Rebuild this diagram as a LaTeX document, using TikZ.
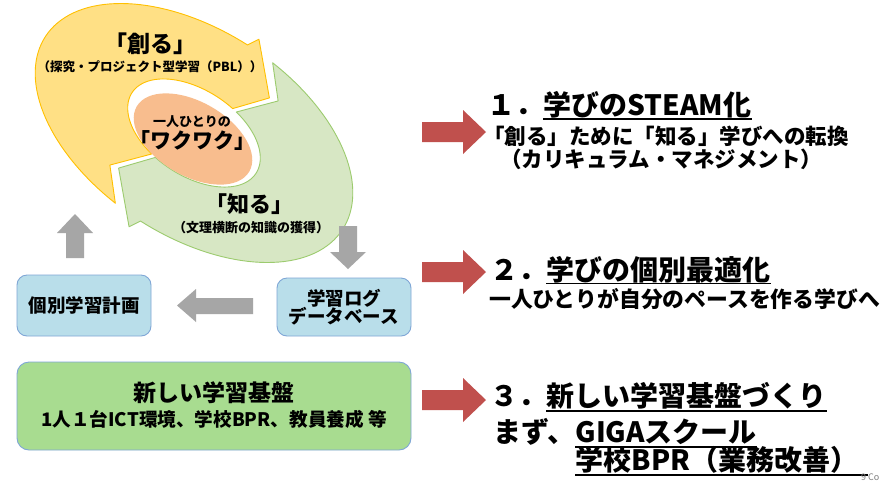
\documentclass[tikz,border=0pt]{standalone}
\usepackage{fontspec}
\setmainfont{Noto Sans CJK JP}
\newcommand\myfs[1]{\fontsize{#1pt}{#1pt}\selectfont}
\definecolor{yfill}{HTML}{FFE085}
\definecolor{yline}{HTML}{FFC000}
\definecolor{gfill}{HTML}{D7E7C4}
\definecolor{gline}{HTML}{9CCB6E}
\definecolor{ofill}{HTML}{F8BD8E}
\definecolor{bfill}{HTML}{B9DEEA}
\definecolor{bline}{HTML}{7FA6D6}
\definecolor{gbfill}{HTML}{A8DC90}
\definecolor{grayarr}{HTML}{A6A6A6}
\definecolor{redarr}{HTML}{C0504D}
\begin{document}
\begin{tikzpicture}[x=1pt,y=-1pt,
  lbl/.style={inner sep=0pt,font=\bfseries},
  bluebox/.style={draw=bline,fill=bfill,line width=0.9pt,rounded corners=10pt,inner sep=0pt,font=\bfseries\myfs{18.5},align=center},
  greenbox/.style={draw=bline,fill=gbfill,line width=0.9pt,rounded corners=12pt,inner sep=0pt},
  grayblock/.style={fill=grayarr},
  redblock/.style={fill=redarr},
  uline/.style={line width=1.8pt}]
\useasboundingbox[fill=white] (0,0) rectangle (888,483);
% ---- cycle arrows
\begin{scope}[shift={(194,133)},x=172pt,y=100pt,rotate=-33]
  \filldraw[fill=yfill,draw=yline,line width=0.9pt,line join=round]
    (261:1.03) -- plot[domain=261:91,samples=70] (\x:1.03) -- (89:1.14) -- (70:0.75) -- (75:0.43)
    -- plot[domain=75:251,samples=70] (\x:0.43) -- (247:0.79) -- cycle;
  \filldraw[fill=gfill,draw=gline,line width=0.9pt,line join=round]
    (81:1.03) -- plot[domain=81:-89,samples=70] (\x:1.03) -- (-91:1.14) -- (-110:0.75) -- (-105:0.43)
    -- plot[domain=-105:71,samples=70] (\x:0.43) -- (67:0.79) -- cycle;
\end{scope}
\fill[ofill,rotate around={-30:(193,139)}] (193,139) ellipse [x radius=65pt,y radius=37pt];
% ---- cycle texts
\node[lbl,anchor=base,font=\bfseries\myfs{23}] (tsukuru) at (150,52) {「創る」};
\node[lbl,anchor=base,font=\bfseries\myfs{12.5}] (pbl) at (150,71) {（探究・プロジェクト型学習（PBL））};
\node[lbl,anchor=base,font=\bfseries\myfs{13}] (hitori) at (192,126) {一人ひとりの};
\node[lbl,anchor=base,font=\bfseries\myfs{21}] (waku) at (192,148) {「ワクワク」};
\node[lbl,anchor=base,font=\bfseries\myfs{22}] (shiru) at (249,212) {「知る」};
\node[lbl,anchor=base,font=\bfseries\myfs{13}] (bunri) at (251,232) {（文理横断の知識の獲得）};
% ---- boxes
\node[bluebox,minimum width=134pt,minimum height=61pt] (plan) at (84,305.5) {個別学習計画};
\node[bluebox,minimum width=134pt,minimum height=58pt] (logdb) at (344,307) {学習ログ\\データベース};
\node[greenbox,minimum width=394pt,minimum height=88pt] (base) at (214,406) {};
\node[lbl,font=\bfseries\myfs{23}] (baset) at ([yshift=13pt]base.center) {新しい学習基盤};
\node[lbl,font=\bfseries\myfs{18.6}] (bases) at ([yshift=-13pt]base.center) {1人１台ICT環境、学校BPR、教員養成 等};
% ---- gray arrows
\fill[grayblock] (66,258) -- (66,233) -- (57,233) -- (75,214) -- (93,233) -- (84,233) -- (84,258) -- cycle;
\fill[grayblock] (339,226) -- (357,226) -- (357,252) -- (366,252) -- (348,269) -- (330,252) -- (339,252) -- cycle;
\fill[grayblock] (253,298) -- (196,298) -- (196,289) -- (177,305.5) -- (196,322) -- (196,314) -- (253,314) -- cycle;
% ---- red arrows
\foreach \c in {132,272,400}{
  \fill[redblock] (422,\c-10) -- (463,\c-10) -- (463,\c-22) -- (486,\c) -- (463,\c+22) -- (463,\c+10) -- (422,\c+10) -- cycle;
}
% ---- right texts
\node[lbl,anchor=base west,font=\bfseries\myfs{28}] (n1) at (487,115) {１．};
\node[lbl,anchor=base west,font=\bfseries\myfs{28}] (t1) at (n1.base east) {学びのSTEAM化};
\draw[uline] ([yshift=-4pt]t1.base west) -- ([yshift=-4pt]t1.base east);
\node[lbl,anchor=base west,font=\bfseries\myfs{21.5}] (s1a) at (483,144) {「創る」ために「知る」学びへの転換};
\node[lbl,anchor=base west,font=\bfseries\myfs{21.5}] (s1b) at (500,167) {（カリキュラム・マネジメント）};
\node[lbl,anchor=base west,font=\bfseries\myfs{28}] (n2) at (490,280) {２．};
\node[lbl,anchor=base west,font=\bfseries\myfs{28}] (t2) at (n2.base east) {学びの個別最適化};
\draw[uline] ([yshift=-3.5pt]t2.base west) -- ([yshift=-3.5pt]t2.base east);
\node[lbl,anchor=base west,font=\bfseries\myfs{21.8}] (s2) at (489,307) {一人ひとりが自分のペースを作る学びへ};
\node[lbl,anchor=base west,font=\bfseries\myfs{28}] (n3) at (490,406) {３．};
\node[lbl,anchor=base west,font=\bfseries\myfs{28}] (t3) at (n3.base east) {新しい学習基盤づくり};
\draw[uline] ([yshift=-5pt]t3.base west) -- ([yshift=-5pt]t3.base east);
\node[lbl,anchor=base west,font=\bfseries\myfs{28}] (m1) at (493,442) {まず、};
\node[lbl,anchor=base west,font=\bfseries\myfs{28}] (giga) at (m1.base east) {GIGAスクール};
\draw[uline] ([yshift=-5pt]giga.base west) -- ([yshift=-5pt]giga.base east);
\node[lbl,anchor=base west,font=\bfseries\myfs{28}] (bpr) at (giga.base west |- 0,470) {学校BPR（業務改善）};
\draw[uline] ([yshift=-5pt]bpr.base west) -- ([yshift=-5pt,xshift=10pt]bpr.base east);
\node[inner sep=0pt,anchor=base west,font=\myfs{9},text=gray] (copy) at (861,480) {9 Co};
\end{tikzpicture}
\end{document}
